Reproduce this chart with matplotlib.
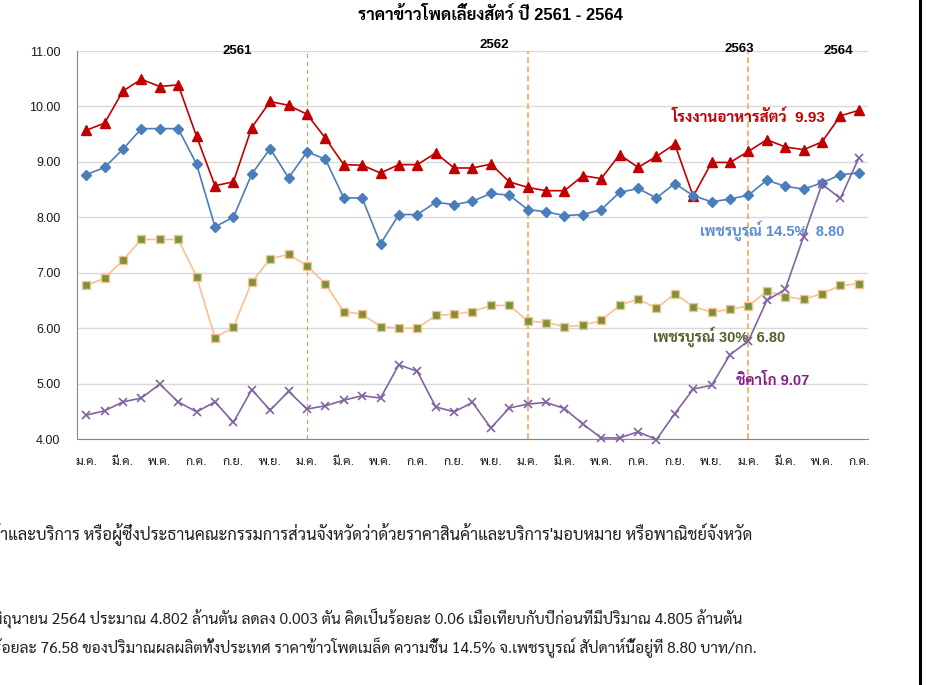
import matplotlib
matplotlib.use("Agg")
import matplotlib.pyplot as plt
from matplotlib.lines import Line2D

plt.rcParams['font.family'] = ['Liberation Sans', 'Sarabun', 'DejaVu Sans']

months = ["ม.ค.", "ก.พ.", "มี.ค.", "เม.ย.", "พ.ค.", "มิ.ย.",
          "ก.ค.", "ส.ค.", "ก.ย.", "ต.ค.", "พ.ย.", "ธ.ค."]
n_points = 43  # ม.ค. 2561 - ก.ค. 2564

# โรงงานอาหารสัตว์
factory = [9.57, 9.70, 10.28, 10.49, 10.36, 10.39, 9.46, 8.57, 8.64, 9.62, 10.09, 10.02,
           9.86, 9.43, 8.95, 8.94, 8.80, 8.95, 8.95, 9.16, 8.89, 8.89, 8.96, 8.64,
           8.54, 8.48, 8.48, 8.75, 8.70, 9.13, 8.90, 9.10, 9.32, 8.38, 8.99, 8.99,
           9.19, 9.40, 9.27, 9.22, 9.36, 9.83, 9.93]
# เพชรบูรณ์ 14.5%
pb145 = [8.77, 8.90, 9.23, 9.60, 9.60, 9.60, 8.96, 7.83, 8.00, 8.78, 9.24, 8.71,
         9.18, 9.05, 8.35, 8.35, 7.52, 8.05, 8.05, 8.27, 8.23, 8.29, 8.43, 8.40,
         8.14, 8.10, 8.03, 8.05, 8.14, 8.45, 8.52, 8.35, 8.61, 8.39, 8.28, 8.33,
         8.40, 8.67, 8.56, 8.51, 8.62, 8.77, 8.80]
# เพชรบูรณ์ 30%
pb30 = [6.77, 6.90, 7.23, 7.60, 7.60, 7.60, 6.93, 5.83, 6.02, 6.83, 7.25, 7.33,
        7.13, 6.80, 6.30, 6.25, 6.03, 6.00, 6.00, 6.23, 6.25, 6.30, 6.41, 6.41,
        6.13, 6.10, 6.03, 6.05, 6.14, 6.41, 6.53, 6.36, 6.62, 6.39, 6.29, 6.34,
        6.40, 6.67, 6.57, 6.52, 6.62, 6.77, 6.80]
# ชิคาโก
chicago = [4.43, 4.51, 4.67, 4.74, 4.99, 4.67, 4.49, 4.67, 4.30, 4.89, 4.52, 4.86,
           4.54, 4.60, 4.70, 4.78, 4.74, 5.34, 5.22, 4.58, 4.49, 4.66, 4.20, 4.56,
           4.63, 4.66, 4.55, 4.27, 4.02, 4.02, 4.13, 3.99, 4.46, 4.90, 4.97, 5.52,
           5.77, 6.50, 6.70, 7.65, 8.60, 8.34, 9.07]

years = ["2561", "2562", "2563", "2564"]
year_pos = [(8.2, 11.0), (22.2, 11.1), (35.5, 11.04), (40.9, 11.0)]
year_starts = [12, 24, 36]

x = list(range(n_points))
tick_idx = x[::2]
tick_labels = [months[i % 12] for i in tick_idx]

fig = plt.figure(figsize=(9.29, 6.85), dpi=100)
ax = fig.add_axes([0.0829, 0.3591, 0.8514, 0.5664])

ax.plot(x, factory, color="#C00000", lw=1.2, marker="^", ms=7, clip_on=False, zorder=4)
ax.plot(x, pb145, color="#4A7EBB", lw=1.2, marker="D", ms=5, clip_on=False, zorder=4)
ax.plot(x, pb30, color="#FAC090", lw=1.2, marker="s", ms=6, mfc="#77933C",
        mec="#FAC090", mew=1.0, clip_on=False, zorder=4)
ax.plot(x, chicago, color="#8064A2", lw=1.2, marker="x", ms=6, mew=1.2, clip_on=False, zorder=4)

ax.axvline(year_starts[0], color="#E39B6A", lw=0.8, ls=(0, (4, 3)), zorder=3)
for xs in year_starts[1:]:
    ax.axvline(xs, color="#F9A65A", lw=1.2, ls=(0, (3.5, 2)), zorder=3)

ax.set_xlim(-0.5, n_points - 0.5)
ax.set_ylim(4, 11)
ax.set_yticks(range(4, 12))
ax.set_yticklabels(["%.2f" % v for v in range(4, 12)])
ax.set_xticks(tick_idx)
ax.set_xticklabels(tick_labels)
ax.tick_params(axis="both", length=0, labelsize=9, colors="#1A1A1A")
ax.tick_params(axis="x", pad=12)
ax.tick_params(axis="y", pad=12)
ax.grid(axis="y", color="#D9D9D9", lw=1)
ax.set_axisbelow(True)
for s in ["top", "right"]:
    ax.spines[s].set_visible(False)
ax.spines["left"].set_color("#868686")
ax.spines["bottom"].set_color("#868686")

for (yx, yy), lab in zip(year_pos, years):
    ax.text(yx, yy, lab, ha="center", va="center", fontsize=9.5, fontweight="bold",
            clip_on=False)

ax.text(36.0, 9.80, "โรงงานอาหารสัตว์  9.93", color="#C00000", fontsize=11,
        fontweight="bold", ha="center", va="center")
ax.text(37.3, 7.75, "เพชรบูรณ์ 14.5%  8.80", color="#558ED5", fontsize=10.5,
        fontweight="bold", ha="center", va="center")
ax.text(34.4, 5.85, "เพชรบูรณ์ 30%  6.80", color="#4F6228", fontsize=10.5,
        fontweight="bold", ha="center", va="center")
ax.text(37.3, 5.06, "ชิคาโก 9.07", color="#8B1A89", fontsize=10.5,
        fontweight="bold", ha="center", va="center")

fig.text(490 / 929, 1 - 15 / 685, "ราคาข้าวโพดเลี้ยงสัตว์ ปี 2561 - 2564",
         ha="center", va="center", fontsize=12, fontweight="bold")

# the page text below the chart is cut at the left edge in the original
body = ["สินค้าและบริการ หรือผู้ซึ่งประธานคณะกรรมการส่วนจังหวัดว่าด้วยราคาสินค้าและบริการ'มอบหมาย หรือพาณิชย์จังหวัด",
        "มิถุนายน 2564 ประมาณ 4.802 ล้านตัน ลดลง 0.003 ตัน คิดเป็นร้อยละ 0.06 เมื่อเทียบกับปีก่อนที่มีปริมาณ 4.805 ล้านตัน",
        "ร้อยละ 76.58 ของปริมาณผลผลิตทั้งประเทศ ราคาข้าวโพดเมล็ด ความชื้น 14.5% จ.เพชรบูรณ์ สัปดาห์นี้อยู่ที่ 8.80 บาท/กก."]
body_pos = [(752, 535), (742, 619), (757, 648)]
body_size = [11.9, 11.2, 11.2]
for (bx, by), line, fs in zip(body_pos, body, body_size):
    fig.text(bx / 929, 1 - by / 685, line, ha="right", va="center", fontsize=fs,
             family=["Sarabun"], color="#202020")

fig.add_artist(Line2D([920 / 929, 920 / 929], [0, 1], transform=fig.transFigure,
                      color="black", lw=2.2))

fig.savefig("out.png")
